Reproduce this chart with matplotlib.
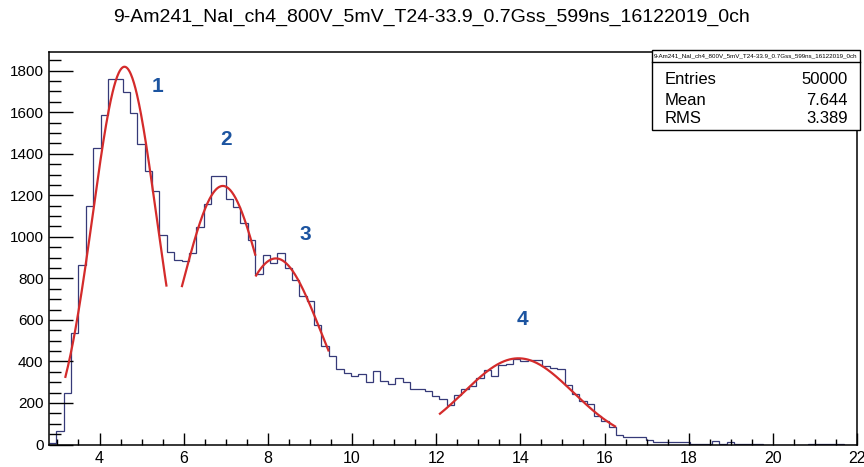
import numpy as np
import matplotlib
matplotlib.use("Agg")
import matplotlib.pyplot as plt
from matplotlib.ticker import MultipleLocator

plt.rcParams['font.family'] = ['Liberation Sans', 'DejaVu Sans']

title = "9-Am241_NaI_ch4_800V_5mV_T24-33.9_0.7Gss_599ns_16122019_0ch"

# histogram: first bin low edge and bin width, then counts per bin
x_first_edge = 2.8
bin_width = 0.175
counts = [
    8, 65, 250, 535, 866, 1150, 1427, 1587, 1760, 1760,
    1695, 1598, 1446, 1319, 1223, 1010, 925, 890, 885, 920,
    1045, 1160, 1295, 1295, 1183, 1145, 1065, 985, 820, 913,
    876, 921, 849, 791, 716, 692, 576, 472, 424, 364,
    345, 328, 339, 301, 352, 308, 293, 320, 301, 269,
    269, 256, 234, 221, 192, 237, 265, 281, 320, 361,
    332, 384, 388, 412, 404, 405, 405, 380, 370, 365,
    285, 245, 210, 195, 135, 112, 85, 48, 35, 35,
    38, 22, 11, 11, 11, 11, 10, 2, 2, 2,
    15, 3, 10, 2, 1, 1, 1, 0, 0, 0,
    0, 0, 0, 4, 4, 1, 1, 1, 0, 0,
]

# gaussian fits: amplitude, mean, sigma, fit range
fit_amp = [1819, 1245, 896, 415]
fit_mean = [4.594, 6.93, 8.19, 13.955]
fit_sigma = [0.757, 0.98, 1.07, 1.30]
fit_lo = [3.19, 5.96, 7.72, 12.09]
fit_hi = [5.59, 7.70, 9.44, 16.25]

peak_labels = ["1", "2", "3", "4"]
label_x = [5.37, 7.0, 8.89, 14.04]
label_y = [1726, 1471, 1012, 604]

stats_names = ["Entries", "Mean", "RMS"]
stats_values = ["50000", "7.644", "3.389"]

fig = plt.figure(figsize=(8.64, 4.67), dpi=100)
ax = fig.add_axes([49 / 864, 1 - 444.5 / 467, (857 - 49) / 864, (444.5 - 52) / 467])

edges = x_first_edge + bin_width * np.arange(len(counts) + 1)
ax.stairs(counts, edges, color='#363a78', linewidth=0.9, baseline=None)

for a, m, s, lo, hi in zip(fit_amp, fit_mean, fit_sigma, fit_lo, fit_hi):
    xx = np.linspace(lo, hi, 200)
    ax.plot(xx, a * np.exp(-0.5 * ((xx - m) / s) ** 2), color='#d42b2b', linewidth=1.6)

for t, x, y in zip(peak_labels, label_x, label_y):
    ax.text(x, y, t, color='#1c54a0', fontsize=15, fontweight='bold', ha='center', va='center')

ax.set_xlim(2.8, 22)
ax.set_ylim(0, 1890)
ax.xaxis.set_major_locator(MultipleLocator(2))
ax.xaxis.set_minor_locator(MultipleLocator(0.5))
ax.yaxis.set_major_locator(MultipleLocator(200))
ax.yaxis.set_minor_locator(MultipleLocator(50))
ax.tick_params(axis='y', which='major', direction='in', length=17, width=1.0, labelsize=11, pad=4)
ax.tick_params(axis='y', which='minor', direction='in', length=8.5, width=1.0)
ax.tick_params(axis='x', which='major', direction='in', length=8.5, width=1.0, labelsize=11.5, pad=5)
ax.tick_params(axis='x', which='minor', direction='in', length=4.3, width=1.0)
for sp in ax.spines.values():
    sp.set_linewidth(1.1)
    sp.set_color('black')

fig.text(0.5, 1 - 17 / 467, title, ha='center', va='center', fontsize=14)

# stats box
bx0, bx1 = 652 / 864, 860 / 864
by_top, by_mid, by_bot = 1 - 50 / 467, 1 - 62 / 467, 1 - 130 / 467
fig.patches.append(plt.Rectangle((bx0, by_bot), bx1 - bx0, by_top - by_bot,
                                 transform=fig.transFigure, facecolor='white',
                                 edgecolor='black', linewidth=1.0, zorder=5))
fig.lines.append(plt.Line2D([bx0, bx1], [by_mid, by_mid], transform=fig.transFigure,
                            color='black', linewidth=1.0, zorder=6))
fig.text((bx0 + bx1) / 2, 1 - 56 / 467, title, ha='center', va='center', fontsize=4.5, zorder=7)
row_y = [80, 100, 119]
for name, val, ry in zip(stats_names, stats_values, row_y):
    fig.text(665 / 864, 1 - ry / 467, name, ha='left', va='center', fontsize=12, zorder=7)
    fig.text(848 / 864, 1 - ry / 467, val, ha='right', va='center', fontsize=12, zorder=7)

fig.savefig("out.png", dpi=100)
